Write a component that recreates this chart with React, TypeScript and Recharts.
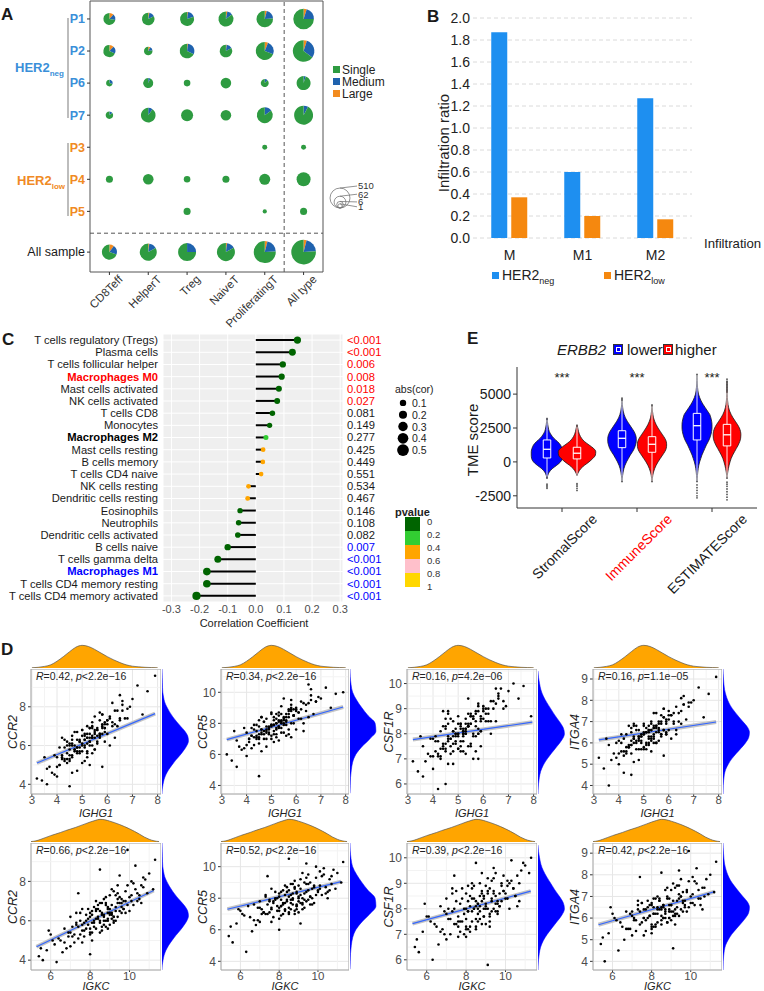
import React from "react";
import {
  Area,
  Bar,
  BarChart,
  CartesianGrid,
  Cell,
  ComposedChart,
  Line,
  ReferenceArea,
  ReferenceLine,
  Scatter,
  ScatterChart,
  XAxis,
  YAxis,
  ZAxis,
} from "recharts";

const FONT = '"Liberation Sans", Arial, Helvetica, sans-serif';

// ---------- A: clone size pies ----------
const aColumns = ["CD8Teff", "HelperT", "Treg", "NaiveT", "ProliferatingT", "All type"];
const aRows = ["P1", "P2", "P6", "P7", "P3", "P4", "P5", "All sample"];
const aRowPos = [0, 1, 2, 3, 4, 5, 6, 7.27];
const aCounts = [
  [67, 81, 123, 163, 243, 578],
  [67, 17, 146, 81, 336, 698],
  [6, 32, 6, 40, 13, 123],
  [10, 146, 67, 40, 210, 417],
  [0, 0, 0, 0, 2, 2],
  [8, 40, 6, 8, 47, 123],
  [0, 0, 8, 0, 1, 8],
  [163, 268, 336, 336, 752, 1175],
];
const aMedium = [
  [0.16, 0.15, 0.18, 0.12, 0.2, 0.2],
  [0.2, 0.15, 0.3, 0.15, 0.25, 0.3],
  [0.3, 0.07, 0, 0, 0.12, 0.05],
  [0.15, 0.1, 0, 0, 0.15, 0.08],
  [0, 0, 0, 0, 0, 0],
  [0, 0, 0, 0, 0, 0],
  [0, 0, 0, 0, 0, 0],
  [0.2, 0.15, 0.25, 0.15, 0.2, 0.2],
];
const aLarge = [
  [0.12, 0.03, 0.02, 0.03, 0.04, 0.05],
  [0.12, 0.08, 0.02, 0.02, 0.06, 0.05],
  [0, 0, 0, 0, 0, 0],
  [0, 0, 0, 0, 0, 0],
  [0, 0, 0, 0, 0, 0],
  [0, 0, 0, 0, 0, 0],
  [0, 0, 0, 0, 0, 0],
  [0.1, 0.02, 0, 0.02, 0.04, 0.04],
];
const aSizeKey = [510, 62, 6, 1];

// ---------- B: macrophage infiltration ----------
const bCats = ["M", "M1", "M2"];
const bNeg = [1.87, 0.6, 1.27];
const bLow = [0.37, 0.2, 0.17];
const bTicks = [0, 0.2, 0.4, 0.6, 0.8, 1.0, 1.2, 1.4, 1.6, 1.8, 2.0];

// ---------- C: correlation lollipop ----------
const cCells = [
  "T cells regulatory (Tregs)",
  "Plasma cells",
  "T cells follicular helper",
  "Macrophages M0",
  "Mast cells activated",
  "NK cells activated",
  "T cells CD8",
  "Monocytes",
  "Macrophages M2",
  "Mast cells resting",
  "B cells memory",
  "T cells CD4 naive",
  "NK cells resting",
  "Dendritic cells resting",
  "Eosinophils",
  "Neutrophils",
  "Dendritic cells activated",
  "B cells naive",
  "T cells gamma delta",
  "Macrophages M1",
  "T cells CD4 memory resting",
  "T cells CD4 memory activated",
];
const cCor = [
  0.148, 0.13, 0.096, 0.092, 0.082, 0.076, 0.059, 0.049, 0.036, 0.026, 0.025, 0.019,
  -0.026, -0.029, -0.056, -0.061, -0.064, -0.1, -0.135, -0.174, -0.174, -0.211,
];
const cPValue = [
  0.0004, 0.0004, 0.006, 0.008, 0.018, 0.027, 0.081, 0.149, 0.277, 0.425, 0.449, 0.551,
  0.534, 0.467, 0.146, 0.108, 0.082, 0.007, 0.0004, 0.0004, 0.0004, 0.0004,
];
const cHighlight: Record<string, string> = {
  "Macrophages M0": "#FF0000",
  "Macrophages M2": "#000000",
  "Macrophages M1": "#0000FF",
};
const cTicks = [-0.3, -0.2, -0.1, 0, 0.1, 0.2, 0.3];
const cSizeKey = [0.1, 0.2, 0.3, 0.4, 0.5];
const cPBreaks = ["0", "0.2", "0.4", "0.6", "0.8", "1"];
const cPColors = ["#006400", "#32CD32", "#FFA500", "#FFC0CB", "#FFD700"];

// ---------- E: ESTIMATE violins ----------
const eGroups = ["StromalScore", "ImmuneScore", "ESTIMATEScore"];
const eTicks = [-2500, 0, 2500, 5000];
const eScores = [
  -1500, -1250, -1000, -750, -500, -250, 0, 250, 500, 750, 1000, 1250, 1500, 1750, 2000, 2250,
  2500, 2750, 3000, 3250, 3500, 3750, 4000, 4250, 4500, 4750, 5000, 5250, 5500, 5750, 6000,
  6250, 6500, 6750,
];
const stromalLow = [
  null, 0, 0.01, 0.03, 0.07, 0.13, 0.18, 0.205, 0.21, 0.21, 0.2, 0.18, 0.14, 0.09, 0.055, 0.03,
  0.018, 0.01, 0.005, 0, null, null, null, null, null, null, null, null, null, null, null, null,
  null, null,
];
const stromalHigh = [
  null, null, 0, 0.02, 0.05, 0.1, 0.16, 0.21, 0.245, 0.25, 0.22, 0.16, 0.1, 0.06, 0.035, 0.02,
  0.01, 0, null, null, null, null, null, null, null, null, null, null, null, null, null, null,
  null, null,
];
const immuneLow = [
  0, 0.003, 0.008, 0.015, 0.025, 0.04, 0.06, 0.085, 0.11, 0.14, 0.165, 0.18, 0.19, 0.19, 0.18,
  0.16, 0.13, 0.1, 0.07, 0.045, 0.028, 0.016, 0.009, 0.004, 0.001, 0, null, null, null, null,
  null, null, null, null,
];
const immuneHigh = [
  0, 0.004, 0.01, 0.02, 0.035, 0.055, 0.08, 0.11, 0.14, 0.17, 0.19, 0.195, 0.19, 0.17, 0.14,
  0.11, 0.08, 0.055, 0.035, 0.02, 0.012, 0.006, 0.002, 0, null, null, null, null, null, null,
  null, null, null, null,
];
const estimateLow = [
  0, 0.003, 0.006, 0.01, 0.016, 0.024, 0.035, 0.05, 0.065, 0.085, 0.105, 0.125, 0.15, 0.17,
  0.185, 0.195, 0.2, 0.2, 0.195, 0.185, 0.17, 0.14, 0.11, 0.08, 0.055, 0.035, 0.02, 0.012,
  0.007, 0.004, 0.002, 0.001, 0, null,
];
const estimateHigh = [
  null, 0, 0.004, 0.01, 0.018, 0.028, 0.04, 0.055, 0.075, 0.1, 0.125, 0.15, 0.17, 0.182, 0.185,
  0.18, 0.165, 0.14, 0.11, 0.08, 0.055, 0.035, 0.022, 0.013, 0.008, 0.005, 0.003, 0.002, 0.001,
  0.001, 0, null, null, null,
];
const eQ1 = [290, 220, 1050, 710, 1620, 1180];
const eMed = [930, 640, 1740, 1300, 2670, 2000];
const eQ3 = [1620, 1080, 2300, 1860, 3580, 2770];
const eLo = [-1100, -950, -1400, -1400, -1400, -1150];
const eHi = [3100, 2600, 4500, 4100, 6400, 5100];
const eOutPos = [
  -0.2, -0.2, -0.2, -0.2, 0.2, 0.2, 0.2, 0.2, 0.2, 1.8, 1.8, 1.8, 1.8, 1.8, 1.8, 2.2, 2.2, 2.2,
  2.2, 2.2, 2.2, 2.2, 2.2, 2.2, 2.2, 2.2, 2.2, 2.2,
];
const eOutVal = [
  -1650, -1750, -1850, -1950, -1600, -1700, -1800, -1950, -2100, -1700, -1900, -2100, -2300,
  -2500, -2650, -1500, -1650, -1800, -2000, -2200, -2400, -2600, -2800, 5300, 5500, 5700, 5900,
  6100,
];

// ---------- D: gene scatter plots (same samples in every panel) ----------
const IGHG1 = [
  5.1, 5.6, 4.4, 6.0, 4.8, 5.3, 4.1, 6.4, 4.6, 5.4, 5.2, 5.7, 3.9, 4.9, 4.5, 5.8, 5.0, 4.3, 6.2, 5.2,
  5.5, 4.0, 4.7, 6.6, 5.9, 3.6, 5.4, 4.2, 6.1, 5.5, 4.6, 5.1, 4.4, 5.0, 5.8, 6.3, 4.8, 7.0, 4.5, 5.0,
  5.6, 6.2, 3.9, 4.7, 6.5, 5.3, 4.2, 4.8, 5.7, 5.1, 3.7, 5.9, 5.4, 4.9, 6.0, 3.4, 5.2, 6.8, 4.6, 5.6,
  4.4, 6.1, 7.4, 4.9, 5.3, 5.5, 6.3, 4.3, 5.7, 3.8, 5.0, 5.4, 4.1, 6.7, 5.8, 5.1, 4.5, 4.5, 6.9, 5.2,
  5.3, 4.7, 6.4, 4.0, 5.5, 3.5, 5.9, 5.7, 6.6, 4.4, 5.8, 7.6, 3.2, 7.9, 4.5, 6.5, 6.8, 3.6, 7.2, 4.2,
  5.0, 5.2, 4.9, 4.7, 5.5, 5.3, 5.4, 4.6, 5.7, 4.8, 5.9, 5.1, 4.6, 5.2, 5.6, 5.0, 4.4, 4.5, 5.8, 5.3,
  5.6, 4.9, 6.1, 4.9, 5.1, 5.9, 4.6, 5.5, 4.5, 5.6, 4.8, 6.0, 4.3, 5.2, 5.4, 5.0, 6.0, 4.2, 5.7, 5.3,
  5.4, 6.5, 4.7, 5.8, 4.0, 5.2, 6.3, 5.5, 4.8, 5.3, 4.6, 6.2, 4.8, 5.9, 5.1, 5.8, 5.4, 4.3, 4.1, 6.6,
];
const IGKC = [
  8.6, 9.4, 7.2, 10.1, 8.1, 9.0, 6.5, 10.6, 8.9, 7.8, 9.7, 8.3, 5.8, 9.2, 7.5, 10.3, 8.8, 6.9, 9.5, 8.0,
  9.9, 7.0, 8.5, 10.8, 8.2, 6.2, 9.3, 7.7, 9.8, 8.7, 5.5, 10.0, 8.4, 7.4, 9.6, 8.9, 6.7, 11.0, 8.0, 9.1,
  7.9, 10.4, 8.6, 7.3, 9.4, 8.1, 6.0, 9.0, 10.7, 8.3, 7.6, 9.2, 8.8, 7.1, 9.7, 5.4, 8.5, 10.2, 7.8, 9.3,
  6.4, 8.7, 11.2, 8.0, 9.5, 7.5, 10.5, 8.2, 9.0, 6.8, 8.4, 9.8, 7.3, 10.9, 8.6, 7.7, 9.1, 5.9, 10.1, 8.9,
  7.0, 9.6, 8.3, 6.6, 9.2, 8.1, 10.6, 7.6, 9.4, 8.8, 7.2, 10.3, 8.0, 9.9, 6.3, 8.5, 7.4, 5.6, 11.3, 9.1,
  8.4, 9.0, 8.7, 7.9, 9.3, 8.2, 9.6, 7.6, 8.9, 8.5, 10.0, 8.1, 9.2, 7.4, 8.8, 9.5, 8.3, 7.1, 9.8, 8.6,
  8.0, 9.1, 10.4, 7.7, 8.9, 9.4, 6.9, 8.4, 9.0, 10.2, 8.2, 8.7, 7.5, 9.7, 8.5, 7.8, 9.3, 8.0, 9.6, 8.8,
  7.3, 10.5, 8.6, 9.1, 6.7, 8.3, 9.9, 7.6, 8.9, 9.4, 8.1, 10.7, 7.0, 8.5, 9.2, 7.9, 10.1, 8.7, 6.1, 9.5,
];
const CCR2 = [
  6.3, 6.9, 5.3, 7.3, 5.9, 6.6, 5.0, 7.8, 6.1, 5.6, 7.0, 6.5, 4.5, 6.2, 6.0, 7.6, 5.7, 5.2, 7.2, 6.4,
  6.8, 5.4, 6.0, 8.1, 6.7, 4.8, 6.0, 5.5, 7.5, 5.8, 4.6, 6.5, 6.2, 5.1, 7.1, 6.4, 5.6, 8.4, 5.3, 6.8,
  6.1, 7.0, 5.5, 5.8, 7.4, 5.0, 5.3, 6.3, 7.7, 6.6, 4.9, 6.2, 7.2, 5.7, 6.6, 4.2, 5.4, 7.9, 6.3, 6.5,
  5.1, 6.0, 7.6, 5.6, 6.9, 6.4, 7.1, 5.9, 7.3, 4.6, 6.8, 6.4, 5.9, 7.4, 6.9, 5.2, 6.1, 5.5, 8.0, 5.6,
  6.2, 6.7, 7.0, 4.4, 7.5, 5.4, 6.9, 6.6, 7.8, 6.0, 4.9, 8.8, 4.3, 9.6, 3.9, 8.6, 7.4, 4.0, 9.1, 6.4,
  6.1, 6.4, 6.2, 5.8, 6.7, 6.0, 6.9, 5.5, 6.6, 5.9, 7.2, 6.3, 6.0, 5.7, 6.8, 6.5, 5.6, 5.2, 7.0, 6.4,
  6.2, 6.3, 7.4, 5.9, 6.0, 7.1, 5.4, 6.6, 5.8, 6.8, 5.7, 7.1, 5.3, 6.6, 6.5, 6.0, 7.3, 5.4, 6.4, 6.9,
  6.4, 7.3, 5.7, 7.6, 4.9, 6.1, 7.8, 5.8, 6.7, 6.2, 6.5, 8.2, 4.7, 6.9, 5.9, 6.6, 7.0, 6.3, 5.0, 8.3,
];
const CCR5 = [
  7.9, 8.4, 7.1, 8.8, 7.5, 8.1, 6.8, 9.2, 7.6, 8.0, 8.6, 7.3, 6.4, 7.7, 7.8, 9.5, 7.2, 6.6, 8.9, 8.3,
  8.2, 7.4, 7.0, 9.8, 8.5, 6.9, 7.4, 7.7, 8.7, 8.0, 6.2, 8.4, 7.9, 7.0, 9.0, 7.5, 7.6, 9.6, 6.7, 8.6,
  7.2, 8.3, 7.7, 8.1, 9.3, 6.9, 7.2, 7.8, 8.9, 8.2, 6.5, 8.0, 9.1, 7.3, 7.6, 5.6, 7.1, 9.4, 8.4, 7.9,
  7.5, 8.3, 9.0, 7.4, 8.5, 7.9, 8.0, 7.6, 8.8, 6.3, 8.7, 7.7, 7.0, 8.6, 8.9, 6.8, 8.2, 7.3, 9.7, 7.3,
  7.8, 8.1, 8.8, 5.9, 9.6, 7.5, 8.5, 8.6, 10.2, 7.0, 7.1, 9.9, 6.0, 10.0, 4.6, 10.5, 9.4, 5.2, 10.3, 6.4,
  7.8, 8.0, 7.6, 7.5, 8.3, 7.7, 8.1, 7.3, 8.4, 7.4, 8.5, 7.9, 7.6, 7.6, 8.6, 7.9, 7.2, 7.0, 8.8, 8.2,
  8.1, 7.7, 8.7, 7.8, 7.5, 8.9, 7.4, 8.4, 7.1, 8.2, 7.0, 8.9, 7.1, 8.0, 8.1, 7.9, 9.0, 7.2, 7.6, 8.7,
  8.2, 8.4, 7.3, 9.2, 6.6, 7.7, 9.3, 7.4, 8.3, 7.8, 8.4, 9.4, 6.5, 8.5, 7.3, 8.0, 8.6, 7.9, 7.0, 9.5,
];
const CSF1R = [
  8.2, 8.6, 7.6, 8.9, 7.9, 8.0, 7.3, 9.3, 8.4, 7.5, 8.1, 8.8, 7.1, 7.7, 8.3, 9.1, 7.4, 7.0, 8.5, 8.0,
  8.7, 7.8, 7.2, 9.5, 8.5, 7.5, 8.3, 7.1, 9.0, 7.6, 6.8, 8.4, 8.9, 7.4, 8.2, 8.0, 8.1, 9.7, 7.3, 8.7,
  7.0, 8.8, 7.8, 8.6, 9.2, 7.2, 7.7, 8.1, 8.3, 8.4, 6.9, 7.5, 9.4, 8.0, 8.6, 6.5, 7.3, 9.0, 8.8, 7.9,
  7.4, 8.5, 9.4, 7.6, 8.2, 8.7, 8.5, 7.1, 8.9, 7.2, 8.0, 8.3, 7.9, 9.8, 8.0, 7.5, 8.6, 8.2, 9.1, 7.7,
  8.4, 7.8, 9.0, 6.6, 8.8, 7.9, 8.1, 7.3, 9.6, 8.3, 7.0, 9.9, 6.9, 8.7, 6.0, 9.8, 9.3, 6.3, 10.0, 5.8,
  8.0, 8.2, 7.9, 7.8, 8.4, 8.1, 8.3, 7.7, 8.5, 7.6, 8.6, 8.3, 7.8, 8.0, 8.7, 7.9, 7.5, 7.6, 8.9, 8.2,
  8.6, 8.0, 8.8, 8.2, 7.7, 8.7, 7.9, 8.4, 7.4, 8.0, 7.3, 9.0, 7.4, 8.1, 8.3, 8.4, 9.1, 7.2, 7.9, 8.6,
  8.8, 8.5, 7.5, 9.2, 7.1, 7.9, 9.3, 7.5, 8.5, 8.0, 8.9, 9.0, 6.8, 8.1, 7.3, 8.0, 8.4, 8.1, 7.7, 9.4,
];
const ITGA4 = [
  6.5, 6.9, 5.9, 7.1, 6.2, 6.6, 5.6, 7.4, 6.3, 6.0, 6.8, 6.4, 5.3, 6.1, 6.7, 7.6, 5.8, 5.5, 7.0, 6.6,
  6.5, 6.1, 5.7, 7.8, 6.9, 5.9, 6.2, 5.4, 7.3, 6.0, 5.1, 6.7, 6.8, 5.7, 7.2, 6.4, 6.3, 8.0, 5.5, 6.8,
  6.1, 6.9, 6.0, 6.6, 7.5, 5.6, 6.2, 6.3, 7.0, 6.5, 5.2, 6.4, 7.4, 6.0, 6.6, 4.8, 5.9, 7.7, 6.8, 6.5,
  5.8, 6.2, 7.2, 5.7, 7.0, 6.7, 6.6, 5.6, 7.3, 5.5, 6.9, 6.3, 6.4, 7.1, 6.6, 5.9, 6.1, 6.5, 7.9, 6.0,
  6.3, 6.8, 7.0, 5.0, 7.4, 6.2, 6.4, 6.4, 8.2, 5.8, 5.4, 8.3, 5.3, 9.1, 4.5, 8.1, 7.9, 4.0, 8.6, 4.6,
  6.4, 6.6, 6.3, 6.1, 6.8, 6.2, 6.7, 6.0, 6.9, 6.1, 7.0, 6.5, 6.2, 6.3, 7.0, 6.4, 5.8, 5.9, 7.2, 6.6,
  6.7, 6.3, 7.3, 6.4, 6.0, 7.1, 6.2, 6.8, 5.9, 6.6, 5.7, 7.3, 5.8, 6.5, 6.4, 6.5, 7.5, 5.6, 6.3, 6.9,
  6.8, 6.9, 6.0, 7.6, 5.5, 6.2, 7.7, 6.0, 6.6, 6.1, 6.9, 7.4, 5.2, 6.5, 5.7, 6.6, 6.7, 6.4, 6.0, 7.8,
];

// marginal densities (relative heights)
const ighg1Grid = [3.0, 3.25, 3.5, 3.75, 4.0, 4.25, 4.5, 4.75, 5.0, 5.25, 5.5, 5.75, 6.0, 6.25, 6.5, 6.75, 7.0, 7.25, 7.5, 7.75, 8.0];
const ighg1Dens = [0.01, 0.03, 0.07, 0.14, 0.3, 0.5, 0.72, 0.92, 1.0, 0.95, 0.82, 0.66, 0.5, 0.36, 0.24, 0.14, 0.08, 0.05, 0.03, 0.02, 0.01];
const igkcGrid = [5.0, 5.25, 5.5, 5.75, 6.0, 6.25, 6.5, 6.75, 7.0, 7.25, 7.5, 7.75, 8.0, 8.25, 8.5, 8.75, 9.0, 9.25, 9.5, 9.75, 10.0, 10.25, 10.5, 10.75, 11.0, 11.25, 11.5];
const igkcDens = [0.02, 0.05, 0.12, 0.2, 0.28, 0.35, 0.42, 0.5, 0.57, 0.64, 0.72, 0.8, 0.88, 0.95, 1.0, 0.98, 0.92, 0.85, 0.77, 0.68, 0.58, 0.47, 0.35, 0.22, 0.12, 0.05, 0.02];
const ccr2Grid = [3.5, 3.75, 4.0, 4.25, 4.5, 4.75, 5.0, 5.25, 5.5, 5.75, 6.0, 6.25, 6.5, 6.75, 7.0, 7.25, 7.5, 7.75, 8.0, 8.25, 8.5, 8.75, 9.0, 9.25, 9.5, 9.75, 10.0];
const ccr2Dens = [0, 0.01, 0.04, 0.08, 0.15, 0.25, 0.38, 0.52, 0.68, 0.82, 0.94, 1.0, 0.97, 0.86, 0.7, 0.54, 0.4, 0.28, 0.18, 0.1, 0.06, 0.03, 0.02, 0.015, 0.01, 0.005, 0];
const ccr5Grid = [3.5, 4.0, 4.5, 5.0, 5.5, 6.0, 6.5, 7.0, 7.5, 8.0, 8.5, 9.0, 9.5, 10.0, 10.5, 11.0, 11.5];
const ccr5Dens = [0, 0.01, 0.02, 0.05, 0.1, 0.22, 0.45, 0.75, 0.98, 0.95, 0.68, 0.45, 0.25, 0.1, 0.04, 0.01, 0];
const csf1rGrid = [5.5, 5.75, 6.0, 6.25, 6.5, 6.75, 7.0, 7.25, 7.5, 7.75, 8.0, 8.25, 8.5, 8.75, 9.0, 9.25, 9.5, 9.75, 10.0, 10.25, 10.5];
const csf1rDens = [0, 0.005, 0.02, 0.05, 0.1, 0.2, 0.35, 0.53, 0.72, 0.9, 1.0, 0.95, 0.8, 0.63, 0.48, 0.33, 0.2, 0.11, 0.06, 0.02, 0];
const itga4Grid = [3.5, 3.75, 4.0, 4.25, 4.5, 4.75, 5.0, 5.25, 5.5, 5.75, 6.0, 6.25, 6.5, 6.75, 7.0, 7.25, 7.5, 7.75, 8.0, 8.25, 8.5, 8.75, 9.0, 9.25, 9.5];
const itga4Dens = [0, 0.005, 0.01, 0.025, 0.05, 0.1, 0.2, 0.33, 0.5, 0.68, 0.85, 0.97, 1.0, 0.92, 0.75, 0.58, 0.42, 0.28, 0.18, 0.11, 0.06, 0.035, 0.02, 0.008, 0];

const dGenes = ["CCR2", "CCR5", "CSF1R", "ITGA4"];
const dGeneValues = [CCR2, CCR5, CSF1R, ITGA4];
const dGeneDomains = [[3.5, 9.95], [3.45, 11.5], [5.6, 10.58], [3.6, 9.47]];
const dGeneTicks = [[4, 6, 8], [4, 6, 8, 10], [6, 7, 8, 9, 10], [4, 5, 6, 7, 8, 9]];
const dGeneGrids = [ccr2Grid, ccr5Grid, csf1rGrid, itga4Grid];
const dGeneDens = [ccr2Dens, ccr5Dens, csf1rDens, itga4Dens];
const row1Stats = [["0.42", "<2.2e\u221216"], ["0.34", "<2.2e\u221216"], ["0.16", "=4.2e\u221206"], ["0.16", "=1.1e\u221205"]];
const row2Stats = [["0.66", "<2.2e\u221216"], ["0.52", "<2.2e\u221216"], ["0.39", "<2.2e\u221216"], ["0.42", "<2.2e\u221216"]];
const row1Fits = [[3.2, 5.1, 7.9, 7.65], [3.2, 6.95, 7.9, 9.05], [3.2, 7.77, 7.95, 8.46], [3.2, 6.14, 7.9, 6.98]];
const row2Fits = [[5.28, 4.68, 11.23, 7.54], [5.33, 7.3, 11.2, 9.05], [5.28, 7.42, 11.28, 8.69], [5.28, 5.69, 11.23, 7.22]];

const GREEN = "#2E9B41";
const MED_BLUE = "#1F62AE";
const LARGE_ORANGE = "#F28B1F";
const NEG_BLUE = "#3A8FD9";
const LOW_ORANGE = "#F08A24";
const B_BLUE = "#1E8FF0";
const B_ORANGE = "#F5880F";
const INK = "#1a1a1a";

function Txt({ x, y, children, size = 12, color = INK, weight = "normal", italic = false, anchor = "left" }: any) {
  const tx = anchor === "center" ? "-50%" : anchor === "right" ? "-100%" : "0";
  return (
    <div
      style={{
        position: "absolute",
        left: x,
        top: y,
        transform: `translate(${tx}, -50%)`,
        fontSize: size,
        color,
        fontWeight: weight,
        fontStyle: italic ? "italic" : "normal",
        whiteSpace: "nowrap",
        lineHeight: 1,
      }}
    >
      {children}
    </div>
  );
}

function VTxt({ x, y, children, size = 12, color = INK, italic = false }: any) {
  return (
    <div
      style={{
        position: "absolute",
        left: x,
        top: y,
        transform: "translate(-50%, -50%) rotate(-90deg)",
        fontSize: size,
        color,
        fontStyle: italic ? "italic" : "normal",
        whiteSpace: "nowrap",
        lineHeight: 1,
      }}
    >
      {children}
    </div>
  );
}

function Box({ x, y, w, h, color }: any) {
  return <div style={{ position: "absolute", left: x, top: y, width: w, height: h, background: color }} />;
}

// ---------- panel A ----------
// pie area grows with sqrt(count), as in the original size key
const aTable = aRows
  .flatMap((row, r) =>
    aColumns.map((col, c) => ({
      x: c,
      y: aRowPos[r],
      n: aCounts[r][c],
      nz: Math.sqrt(aCounts[r][c]),
      medium: aMedium[r][c],
      large: aLarge[r][c],
    }))
  )
  .filter((d) => d.n > 0);

function PieShape(props: any) {
  const { cx, cy, payload } = props;
  const r = props.width != null ? props.width / 2 : Math.sqrt((props.size || 64) / Math.PI);
  const parts = [
    { v: payload.large, c: LARGE_ORANGE },
    { v: payload.medium, c: MED_BLUE },
    { v: 1 - payload.large - payload.medium, c: GREEN },
  ];
  let a0 = 0;
  const out: any[] = [];
  parts.forEach((p, i) => {
    if (p.v <= 0) return;
    if (p.v >= 0.999) {
      out.push(<circle key={i} cx={cx} cy={cy} r={r} fill={p.c} />);
      return;
    }
    const a1 = a0 + p.v * 2 * Math.PI;
    const x0 = cx + r * Math.sin(a0);
    const y0 = cy - r * Math.cos(a0);
    const x1 = cx + r * Math.sin(a1);
    const y1 = cy - r * Math.cos(a1);
    out.push(
      <path
        key={i}
        d={`M${cx},${cy} L${x0},${y0} A${r},${r} 0 ${p.v > 0.5 ? 1 : 0} 1 ${x1},${y1} Z`}
        fill={p.c}
      />
    );
    a0 = a1;
  });
  return <g>{out}</g>;
}

// label nudges keep the stacked key labels apart, as the original legend does
const aKeyNudge = [-2, -2, 0.5, 3];

function SizeKeyShape(props: any) {
  const { cx, cy, payload, index } = props;
  const r = props.width / 2;
  const top = cy - 2 * r;
  const ly = top + (aKeyNudge[index] || 0);
  return (
    <g>
      <circle cx={cx} cy={cy - r} r={r} fill="none" stroke="#777" strokeWidth={0.8} />
      <line x1={cx} y1={top} x2={cx + 17} y2={ly} stroke="#777" strokeWidth={0.8} />
      <text x={cx + 18} y={ly} dy="0.35em" fontSize={9.5} fill="#333">
        {payload.n}
      </text>
    </g>
  );
}

const ATick = (p: any) => {
  const ax = p.x + 14;
  const ay = p.y + 3;
  return (
    <text x={ax} y={ay} textAnchor="end" transform={`rotate(-45 ${ax} ${ay})`} fontSize={11.5} fill="#333">
      {aColumns[p.payload.value]}
    </text>
  );
};

const ARowTick = (p: any) => {
  const i = aRowPos.indexOf(p.payload.value);
  const color = i < 4 ? NEG_BLUE : i < 7 ? LOW_ORANGE : INK;
  return (
    <text x={p.x} y={p.y} dy="0.35em" textAnchor="end" fontSize={12.5} fontWeight={i < 7 ? "bold" : "normal"} fill={color}>
      {aRows[i]}
    </text>
  );
};

function PanelA() {
  const z = <ZAxis type="number" dataKey="nz" domain={[0, Math.sqrt(1200)]} range={[0, 480]} />;
  return (
    <>
      <div style={{ position: "absolute", left: 0, top: 0 }}>
        <ScatterChart width={330} height={330} margin={{ top: 1, right: 7, bottom: 0, left: 0 }}>
          <XAxis
            type="number"
            dataKey="x"
            domain={[-0.5, 5.5]}
            ticks={[0, 1, 2, 3, 4, 5]}
            interval={0}
            allowDataOverflow
            height={58}
            axisLine={false}
            tickLine={{ stroke: "#333" }}
            tickSize={3}
            tickMargin={2}
            tick={ATick}
          />
          <YAxis
            type="number"
            dataKey="y"
            domain={[-0.56, 7.89]}
            reversed
            ticks={aRowPos}
            interval={0}
            allowDataOverflow
            width={90}
            axisLine={false}
            tickLine={{ stroke: "#333" }}
            tickSize={3}
            tickMargin={2}
            tick={ARowTick}
          />
          {z}
          <ReferenceArea x1={-0.5} x2={5.5} y1={-0.56} y2={7.89} fill="none" fillOpacity={0} stroke="#555" strokeWidth={1} />
          <ReferenceLine x={4.5} stroke="#555" strokeDasharray="4 3" />
          <ReferenceLine y={6.68} stroke="#555" strokeDasharray="4 3" />
          <Scatter data={aTable} shape={PieShape} isAnimationActive={false} />
        </ScatterChart>
      </div>
      <div style={{ position: "absolute", left: 325, top: 180 }}>
        <ScatterChart width={60} height={36} margin={{ top: 0, right: 30, bottom: 8, left: 0 }}>
          <XAxis type="number" dataKey="x" domain={[-1, 1]} hide />
          <YAxis type="number" dataKey="y" domain={[0, 1]} hide />
          {z}
          <Scatter data={aSizeKey.map((n) => ({ x: 0, y: 0, n, nz: Math.sqrt(n) }))} shape={SizeKeyShape} isAnimationActive={false} />
        </ScatterChart>
      </div>
      <Txt x={1} y={14} size={17} weight="bold">A</Txt>
      <Box x={67} y={18} w={2} h={100} color="#BDBDBD" />
      <Box x={67} y={143} w={2} h={73} color="#BDBDBD" />
      <Txt x={15} y={67} size={13} weight="bold" color={NEG_BLUE}>
        HER2<span style={{ fontSize: 8, position: "relative", top: 4 }}>neg</span>
      </Txt>
      <Txt x={17} y={180} size={13} weight="bold" color={LOW_ORANGE}>
        HER2<span style={{ fontSize: 8, position: "relative", top: 4 }}>low</span>
      </Txt>
      {[
        { t: "Single", c: GREEN },
        { t: "Medium", c: MED_BLUE },
        { t: "Large", c: LARGE_ORANGE },
      ].map((d, i) => (
        <React.Fragment key={d.t}>
          <Box x={333} y={66 + i * 12} w={7} h={7} color={d.c} />
          <Txt x={342} y={70 + i * 12} size={12} color="#222">{d.t}</Txt>
        </React.Fragment>
      ))}
    </>
  );
}

// ---------- panel B ----------
const bData = bCats.map((cat, i) => ({ cat, neg: bNeg[i], low: bLow[i] }));

function PanelB() {
  return (
    <>
      <div style={{ position: "absolute", left: 400, top: 0 }}>
        <BarChart
          width={364}
          height={290}
          data={bData}
          margin={{ top: 18, right: 72, bottom: 0, left: 30 }}
          barCategoryGap="25%"
          barGap={4}
        >
          <CartesianGrid vertical={false} stroke="#DADADA" strokeDasharray="4 3" />
          <XAxis dataKey="cat" axisLine={false} tickLine={false} tickSize={0} tickMargin={12} height={52} tick={{ fontSize: 14, fill: "#222" }} />
          <YAxis
            domain={[0, 2]}
            ticks={bTicks}
            interval={0}
            width={43}
            axisLine={false}
            tickLine={false}
            tickSize={0}
            tickMargin={3}
            tick={{ fontSize: 14, fill: "#222" }}
            tickFormatter={(v: number) => v.toFixed(1)}
          />
          <Bar dataKey="neg" fill={B_BLUE} isAnimationActive={false} />
          <Bar dataKey="low" fill={B_ORANGE} isAnimationActive={false} />
        </BarChart>
      </div>
      <Txt x={427} y={16} size={17} weight="bold">B</Txt>
      <VTxt x={443} y={143} size={15} color="#222">Infiltration ratio</VTxt>
      <Txt x={704} y={244} size={13.2} color="#222">Infiltration</Txt>
      <Box x={492} y={272} w={7} h={7} color={B_BLUE} />
      <Txt x={502} y={275} size={14} color="#222">
        HER2<span style={{ fontSize: 9, position: "relative", top: 4 }}>neg</span>
      </Txt>
      <Box x={604} y={272} w={7} h={7} color={B_ORANGE} />
      <Txt x={614} y={275} size={14} color="#222">
        HER2<span style={{ fontSize: 9, position: "relative", top: 4 }}>low</span>
      </Txt>
    </>
  );
}

// ---------- panel C ----------
const cData = cCells.map((name, i) => ({ name, cor: cCor[i], abs: Math.abs(cCor[i]), p: cPValue[i] }));
const pBin = (p: number) => cPColors[Math.min(4, Math.floor(p / 0.2))];
const pText = (p: number) => (p < 0.001 ? "<0.001" : p.toFixed(3));
const pTextColor = (i: number) => (cPValue[i] < 0.05 ? (cCor[i] > 0 ? "#FF0000" : "#0000FF") : INK);

const CNameTick = (p: any) => {
  const hl = cHighlight[p.payload.value];
  return (
    <text x={p.x} y={p.y} dy="0.35em" textAnchor="end" fontSize={11.2} fill={hl || INK} fontWeight={hl ? "bold" : "normal"}>
      {p.payload.value}
    </text>
  );
};

const CPTick = (p: any) => {
  const i = cCells.indexOf(p.payload.value);
  return (
    <text x={p.x} y={p.y} dy="0.35em" textAnchor="start" fontSize={11.2} fill={pTextColor(i)}>
      {pText(cPValue[i])}
    </text>
  );
};

const CDot = (p: any) => <circle cx={p.cx} cy={p.cy} r={p.width / 2} fill={p.fill} />;

function PanelC() {
  const z = <ZAxis type="number" dataKey="abs" domain={[0, 0.5]} range={[12.8, 108.6]} />;
  return (
    <>
      <div style={{ position: "absolute", left: 0, top: 330 }}>
        <ComposedChart layout="vertical" width={385} height={290} data={cData} margin={{ top: 4, right: 0, bottom: 0, left: 0 }}>
          <CartesianGrid fill="#EFEFEF" stroke="#FFFFFF" strokeWidth={1} />
          <XAxis
            type="number"
            domain={[-0.33, 0.31]}
            ticks={cTicks}
            interval={0}
            allowDataOverflow
            height={18}
            axisLine={false}
            tickLine={false}
            tickSize={2}
            tickMargin={1}
            tick={{ fontSize: 11, fill: "#4D4D4D" }}
            tickFormatter={(v: number) => v.toFixed(1)}
          />
          <YAxis type="category" dataKey="name" width={163} axisLine={false} tickLine={false} tickSize={3} tickMargin={2} interval={0} tick={CNameTick} />
          <YAxis yAxisId="p" orientation="right" type="category" dataKey="name" width={42} axisLine={false} tickLine={false} tickSize={0} tickMargin={4} interval={0} tick={CPTick} />
          {z}
          <Bar dataKey="cor" barSize={2} fill="#000" isAnimationActive={false} />
          <Scatter dataKey="cor" shape={CDot} isAnimationActive={false}>
            {cData.map((d, i) => (
              <Cell key={i} fill={pBin(d.p)} />
            ))}
          </Scatter>
        </ComposedChart>
      </div>
      <div style={{ position: "absolute", left: 396, top: 397 }}>
        <ScatterChart width={14} height={59} margin={{ top: 0, right: 0, bottom: 0, left: 0 }}>
          <XAxis type="number" dataKey="x" domain={[-1, 1]} hide />
          <YAxis type="number" dataKey="y" domain={[-0.5, 4.5]} reversed hide />
          {z}
          <Scatter data={cSizeKey.map((abs, i) => ({ x: 0, y: i, abs }))} shape={CDot} fill="#000" isAnimationActive={false} />
        </ScatterChart>
      </div>
      <Txt x={2} y={339} size={17} weight="bold">C</Txt>
      <Txt x={254} y={623} size={11} anchor="center" color="#222">Correlation Coefficient</Txt>
      <Txt x={395} y={389} size={10.5} color="#222">abs(cor)</Txt>
      {cSizeKey.map((v, i) => (
        <Txt key={v} x={412} y={403 + i * 11.8} size={10.5} color="#222">{v.toFixed(1)}</Txt>
      ))}
      <Txt x={395} y={512} size={11} weight="bold" color="#222">pvalue</Txt>
      {cPColors.map((c, i) => (
        <Box key={c} x={405} y={517 + i * 14} w={15} h={14} color={c} />
      ))}
      {cPBreaks.map((t, i) => (
        <Txt key={t} x={427} y={522 + i * 13} size={9.5} color="#333">{t}</Txt>
      ))}
    </>
  );
}

// ---------- panel E ----------
const eViolins = [
  { key: "sLow", center: -0.2, half: stromalLow, color: "#0000FF" },
  { key: "sHigh", center: 0.2, half: stromalHigh, color: "#FF0000" },
  { key: "iLow", center: 0.8, half: immuneLow, color: "#0000FF" },
  { key: "iHigh", center: 1.2, half: immuneHigh, color: "#FF0000" },
  { key: "eLow", center: 1.8, half: estimateLow, color: "#0000FF" },
  { key: "eHigh", center: 2.2, half: estimateHigh, color: "#FF0000" },
];
const eTable = eScores.map((s, i) => {
  const row: any = { s };
  eViolins.forEach((v) => {
    const w = v.half[i];
    row[v.key] = w == null ? [null, null] : [v.center - w, v.center + w];
  });
  return row;
});
const eOutliers = eOutPos.map((px, i) => ({ px, s: eOutVal[i] }));
const eStars = [0, 1, 2].map((px) => ({ px, s: 6250 }));

const ETick = (p: any) => {
  const ax = p.x + 36;
  const ay = p.y + 6;
  const label = eGroups[p.payload.value];
  return (
    <text x={ax} y={ay} textAnchor="end" transform={`rotate(-45 ${ax} ${ay})`} fontSize={14} fill={label === "ImmuneScore" ? "#FF0000" : INK}>
      {label}
    </text>
  );
};

function PanelE() {
  return (
    <>
      <div style={{ position: "absolute", left: 400, top: 300 }}>
        <ComposedChart layout="vertical" width={364} height={300} data={eTable} margin={{ top: 67, right: 7, bottom: 0, left: 0 }}>
          <XAxis
            type="number"
            domain={[-0.6, 2.6]}
            ticks={[0, 1, 2]}
            interval={0}
            allowDataOverflow
            height={92}
            axisLine={{ stroke: "#333" }}
            tickLine={{ stroke: "#333" }}
            tickSize={4}
            tickMargin={2}
            tick={ETick}
          />
          <YAxis
            type="number"
            dataKey="s"
            domain={[-3400, 7000]}
            reversed
            ticks={eTicks}
            interval={0}
            allowDataOverflow
            width={117}
            axisLine={{ stroke: "#333" }}
            tickLine={{ stroke: "#333" }}
            tickSize={4}
            tickMargin={2}
            tick={{ fontSize: 14, fill: INK }}
          />
          {eViolins.map((v) => (
            <Area
              key={v.key}
              dataKey={v.key}
              type="monotone"
              fill={v.color}
              fillOpacity={1}
              stroke="#1a1a1a"
              strokeWidth={0.8}
              isAnimationActive={false}
            />
          ))}
          {eViolins.map((v, i) => (
            <React.Fragment key={"box" + i}>
              <ReferenceLine zIndex={800} segment={[{ x: v.center, y: eLo[i] }, { x: v.center, y: eQ1[i] }]} stroke="#fff" strokeWidth={0.9} />
              <ReferenceLine zIndex={800} segment={[{ x: v.center, y: eQ3[i] }, { x: v.center, y: eHi[i] }]} stroke="#fff" strokeWidth={0.9} />
              <ReferenceArea zIndex={800} x1={v.center - 0.05} x2={v.center + 0.05} y1={eQ1[i]} y2={eQ3[i]} fill="none" fillOpacity={0} stroke="#fff" strokeWidth={1} />
              <ReferenceLine zIndex={800} segment={[{ x: v.center - 0.05, y: eMed[i] }, { x: v.center + 0.05, y: eMed[i] }]} stroke="#fff" strokeWidth={1.3} />
            </React.Fragment>
          ))}
          <Scatter
            data={eOutliers}
            dataKey="px"
            isAnimationActive={false}
            shape={(p: any) => <circle cx={p.cx} cy={p.cy} r={0.9} fill="#555" />}
          />
          <Scatter
            data={eStars}
            dataKey="px"
            isAnimationActive={false}
            shape={(p: any) => (
              <text x={p.cx} y={p.cy} dy="0.35em" textAnchor="middle" fontSize={13} fill={INK}>
                ***
              </text>
            )}
          />
        </ComposedChart>
      </div>
      <Txt x={467} y={338} size={17} weight="bold">E</Txt>
      <VTxt x={472} y={440} size={15}>TME score</VTxt>
      <Txt x={557} y={349} size={15} italic>ERBB2</Txt>
      <div style={{ position: "absolute", left: 613, top: 344, width: 10, height: 11, background: "#0000FF", border: "1px solid #333", boxSizing: "border-box" }}>
        <div style={{ position: "absolute", left: 1.5, top: 2, width: 5, height: 5, border: "1px solid #fff", boxSizing: "border-box" }} />
      </div>
      <Txt x={627} y={349} size={15}>lower</Txt>
      <div style={{ position: "absolute", left: 663, top: 344, width: 10, height: 11, background: "#FF0000", border: "1px solid #333", boxSizing: "border-box" }}>
        <div style={{ position: "absolute", left: 1.5, top: 2, width: 5, height: 5, border: "1px solid #fff", boxSizing: "border-box" }} />
      </div>
      <Txt x={675} y={349} size={15}>higher</Txt>
    </>
  );
}

// ---------- panel D ----------
function minorLines(ticks: number[], domain: number[]) {
  const step = ticks[1] - ticks[0];
  return [ticks[0] - step / 2, ...ticks.map((t) => t + step / 2)].filter((v) => v > domain[0] && v < domain[1]);
}

function CorrPanel({ left, top, w, h, xs, ys, xDomain, yDomain, xTicks, yTicks, fit, stat, xName, xNameGap, yName, xGrid, xDens, yGrid, yDens }: any) {
  const pts = xs.map((x: number, i: number) => ({ x, y: ys[i] }));
  const fitPts = [
    { x: fit[0], y: fit[1] },
    { x: fit[2], y: fit[3] },
  ];
  const topData = xGrid.map((x: number, i: number) => ({ x, d: xDens[i] }));
  const rightData = yGrid.map((y: number, i: number) => ({ y, d: yDens[i] }));
  const zero = { top: 0, right: 0, bottom: 0, left: 0 };
  return (
    <>
      <div style={{ position: "absolute", left, top: top - 25 }}>
        <ComposedChart width={w} height={24} data={topData} margin={zero}>
          <XAxis type="number" dataKey="x" domain={xDomain} hide allowDataOverflow />
          <YAxis type="number" domain={[0, 1.06]} hide allowDataOverflow />
          <Area type="monotone" dataKey="d" fill="#FFA500" fillOpacity={1} stroke="#555" strokeWidth={0.7} isAnimationActive={false} />
        </ComposedChart>
      </div>
      <div style={{ position: "absolute", left: left + w + 1, top }}>
        <ComposedChart layout="vertical" width={27} height={h} data={rightData} margin={zero}>
          <XAxis type="number" domain={[0, 1.02]} hide allowDataOverflow />
          <YAxis type="number" dataKey="y" domain={yDomain} reversed hide allowDataOverflow />
          <Area type="monotone" dataKey="d" fill="#0000FF" fillOpacity={1} stroke="#0000FF" strokeWidth={0.5} isAnimationActive={false} />
        </ComposedChart>
      </div>
      <div style={{ position: "absolute", left: left - 30, top }}>
        <ComposedChart width={w + 30} height={h + 16} margin={zero}>
          <CartesianGrid stroke="#E6E6E6" />
          {minorLines(xTicks, xDomain).map((v) => (
            <ReferenceLine key={"mx" + v} x={v} stroke="#F3F3F3" />
          ))}
          {minorLines(yTicks, yDomain).map((v) => (
            <ReferenceLine key={"my" + v} y={v} stroke="#F3F3F3" />
          ))}
          <XAxis
            type="number"
            dataKey="x"
            domain={xDomain}
            ticks={xTicks}
            interval={0}
            allowDataOverflow
            height={16}
            axisLine={false}
            tickLine={{ stroke: "#333" }}
            tickSize={2}
            tickMargin={0}
            tick={{ fontSize: 11.5, fill: "#4D4D4D" }}
          />
          <YAxis
            type="number"
            dataKey="y"
            domain={yDomain}
            ticks={yTicks}
            interval={0}
            allowDataOverflow
            width={30}
            axisLine={false}
            tickLine={{ stroke: "#333" }}
            tickSize={3}
            tickMargin={2}
            tick={{ fontSize: 12, fill: "#4D4D4D" }}
          />
          <Scatter data={pts} isAnimationActive={false} shape={(p: any) => <circle cx={p.cx} cy={p.cy} r={1.3} fill="#000" />} />
          <Line data={fitPts} dataKey="y" stroke="#C4C4C4" strokeWidth={4} dot={false} isAnimationActive={false} />
          <Line data={fitPts} dataKey="y" stroke="#3366FF" strokeWidth={1.2} dot={false} isAnimationActive={false} />
          <ReferenceArea zIndex={800} x1={xDomain[0]} x2={xDomain[1]} y1={yDomain[0]} y2={yDomain[1]} fill="none" fillOpacity={0} stroke="#A8A8A8" />
        </ComposedChart>
      </div>
      <Txt x={left + 5} y={top + 7} size={10.5} color="#222">
        <i>R</i>={stat[0]}, <i>p</i>{stat[1]}
      </Txt>
      <VTxt x={left - 18} y={top + h / 2} size={12.5} italic color="#222">{yName}</VTxt>
      <Txt x={left + w / 2} y={top + h + xNameGap} size={11} italic anchor="center" color="#222">{xName}</Txt>
    </>
  );
}

const dColLeft = [31, 221, 407, 593];
const dColWidth = [130, 128, 130, 129];
const dRows = [
  { top: 669, h: 125, xName: "IGHG1", xNameGap: 19, xs: IGHG1, xDomain: [2.965, 8.135], xTicks: [3, 4, 5, 6, 7, 8], xGrid: ighg1Grid, xDens: ighg1Dens, stats: row1Stats, fits: row1Fits },
  { top: 843, h: 127, xName: "IGKC", xNameGap: 15.5, xs: IGKC, xDomain: [5.0, 11.6], xTicks: [6, 8, 10], xGrid: igkcGrid, xDens: igkcDens, stats: row2Stats, fits: row2Fits },
];

function PanelD() {
  return (
    <>
      {dRows.map((row, r) =>
        dGenes.map((gene, g) => (
          <CorrPanel
            key={r + gene}
            left={dColLeft[g]}
            top={row.top}
            w={dColWidth[g]}
            h={row.h}
            xs={row.xs}
            ys={dGeneValues[g]}
            xDomain={row.xDomain}
            yDomain={dGeneDomains[g]}
            xTicks={row.xTicks}
            yTicks={dGeneTicks[g]}
            fit={row.fits[g]}
            stat={row.stats[g]}
            xName={row.xName}
            xNameGap={row.xNameGap}
            yName={gene}
            xGrid={row.xGrid}
            xDens={row.xDens}
            yGrid={dGeneGrids[g]}
            yDens={dGeneDens[g]}
          />
        ))
      )}
      <Txt x={1} y={649} size={17} weight="bold">D</Txt>
    </>
  );
}

export default function App() {
  return (
    <div
      style={{
        position: "absolute",
        left: 0,
        top: 0,
        width: 764,
        height: 991,
        background: "#fff",
        overflow: "hidden",
        fontFamily: FONT,
        color: INK,
      }}
    >
      <PanelA />
      <PanelB />
      <PanelC />
      <PanelE />
      <PanelD />
    </div>
  );
}
